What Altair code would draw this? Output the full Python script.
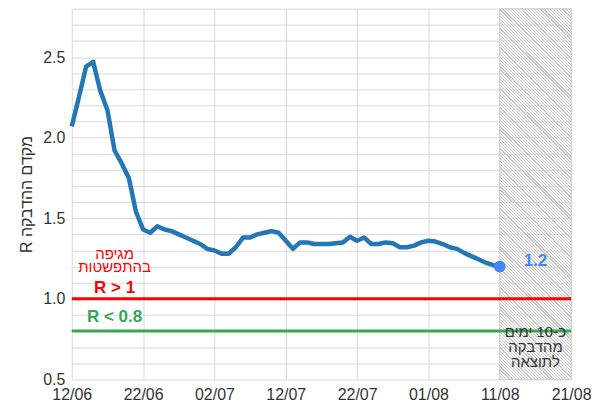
import altair as alt
import pandas as pd

# ---- data ----
start_date = "2020-06-12"
r_values = [2.07, 2.25, 2.44, 2.47, 2.29, 2.17, 1.92, 1.84, 1.75, 1.54,
            1.43, 1.41, 1.45, 1.43, 1.42, 1.40, 1.38, 1.36, 1.34, 1.31,
            1.30, 1.28, 1.28, 1.32, 1.38, 1.38, 1.40, 1.41, 1.42, 1.41,
            1.36, 1.31, 1.35, 1.35, 1.34, 1.34, 1.34, 1.345, 1.35, 1.385,
            1.36, 1.38, 1.34, 1.34, 1.35, 1.345, 1.32, 1.32, 1.33, 1.35,
            1.36, 1.355, 1.34, 1.32, 1.31, 1.285, 1.265, 1.245, 1.225, 1.21,
            1.20]
x_tick_dates = ["2020-06-12", "2020-06-22", "2020-07-02", "2020-07-12",
                "2020-07-22", "2020-08-01", "2020-08-11", "2020-08-21"]
y_grid_values = [round(0.5 + 0.1 * i, 1) for i in range(24)]
threshold_high = 1.0
threshold_low = 0.8
shade_start = "2020-08-11"
shade_end = "2020-08-21"
y_min, y_max = 0.5, 2.8

RLE, PDF = "\u202b", "\u202c"
y_title = RLE + "מקדם ההדבקה R" + PDF
left_notes = ["מגיפה", "בהתפשטות"]
left_notes_date = ["2020-06-18", "2020-06-18"]
left_notes_y = [1.277, 1.195]
high_label = "R > 1"
low_label = "R < 0.8"
labels_date = "2020-06-18"
high_label_y = 1.07
low_label_y = 0.89
last_label = "1.2"
last_label_date = "2020-08-16"
last_label_y = 1.232
shade_notes = [RLE + "כ-10 ימים" + PDF, "מהדבקה", "לתוצאה"]
shade_notes_date = "2020-08-16"
shade_notes_y = [0.797, 0.703, 0.609]

FONT = "Liberation Sans"

dates = pd.date_range(start_date, periods=len(r_values), freq="D")
df = pd.DataFrame({"date": dates, "r": r_values})
last_df = df.tail(1)

x_scale = alt.Scale(domain=[alt.DateTime(year=2020, month=6, date=12),
                            alt.DateTime(year=2020, month=8, date=21)])
y_scale = alt.Scale(domain=[y_min, y_max], nice=False, zero=False)

x_axis = alt.Axis(
    values=[alt.DateTime(year=int(d[:4]), month=int(d[5:7]), date=int(d[8:]))
            for d in x_tick_dates],
    format="%d/%m", title=None, grid=True, domain=False, ticks=False,
    labelFontSize=16, labelColor="#333333", labelPadding=7,
    labelFont=FONT, gridColor="#d9d9d9", labelFlush=False, labelOverlap=False,
)
y_axis = alt.Axis(
    values=y_grid_values, title=y_title, grid=True, domain=False, ticks=False,
    labelExpr="abs(datum.value*2 - round(datum.value*2)) < 0.001 ? format(datum.value, '.1f') : ''",
    labelFontSize=16, labelColor="#333333", labelPadding=7, labelFont=FONT,
    labelOverlap=False, labelFlush=False,
    titleFont=FONT, titleFontSize=16, titleFontWeight="normal",
    titleColor="#333333", titlePadding=8, gridColor="#d9d9d9",
)

# hatch via sharp-stop gradient
stops = []
n = 140
for i in range(n):
    a = i / n
    b = (i + 0.38) / n
    c = (i + 1) / n
    stops += [
        alt.GradientStop(color="#c6c6c6", offset=a),
        alt.GradientStop(color="#c6c6c6", offset=b),
        alt.GradientStop(color="rgba(255,255,255,0)", offset=b),
        alt.GradientStop(color="rgba(255,255,255,0)", offset=c),
    ]
hatch = alt.Gradient(gradient="linear", stops=stops,
                     x1=0, y1=1, x2=0.2214, y2=-0.1499)

shade_df = pd.DataFrame({"s": [pd.Timestamp(shade_start)],
                         "e": [pd.Timestamp(shade_end)],
                         "y0": [y_min], "y1": [y_max]})


def X(field):
    return alt.X(field, scale=x_scale, axis=x_axis)


def Y(field):
    return alt.Y(field, scale=y_scale, axis=y_axis)


shade = alt.Chart(shade_df).mark_rect(fill=hatch, stroke="#d0d0d0", strokeWidth=1).encode(
    x=X("s:T"), x2="e:T", y=Y("y0:Q"), y2="y1:Q",
)

line = alt.Chart(df).mark_line(color="#2377b4", strokeWidth=4.5, strokeJoin="round").encode(
    x=X("date:T"), y=Y("r:Q"),
)

rules_df = pd.DataFrame({"y": [threshold_high, threshold_low],
                         "c": ["#ff0000", "#34a853"]})
rules = alt.Chart(rules_df).mark_rule(strokeWidth=3).encode(
    y=Y("y:Q"), color=alt.Color("c:N", scale=None),
)

point = alt.Chart(last_df).mark_circle(size=140, color="#4285f4", opacity=1).encode(
    x=X("date:T"), y=Y("r:Q"),
)

notes_df = pd.DataFrame({"d": pd.to_datetime(left_notes_date), "y": left_notes_y, "t": left_notes})
notes = alt.Chart(notes_df).mark_text(color="#ff0000", fontSize=15, font=FONT).encode(
    x=X("d:T"), y=Y("y:Q"), text="t:N")

bold_df = pd.DataFrame({
    "d": pd.to_datetime([labels_date, labels_date, last_label_date]),
    "y": [high_label_y, low_label_y, last_label_y],
    "t": [high_label, low_label, last_label],
    "c": ["#ff0000", "#34a853", "#4285f4"],
})
bold = alt.Chart(bold_df).mark_text(fontSize=17, fontWeight="bold", font=FONT).encode(
    x=X("d:T"), y=Y("y:Q"), text="t:N",
    color=alt.Color("c:N", scale=None))

shade_notes_df = pd.DataFrame({"d": pd.to_datetime([shade_notes_date] * 3),
                               "y": shade_notes_y, "t": shade_notes})
snotes = alt.Chart(shade_notes_df).mark_text(color="#333333", fontSize=15, font=FONT).encode(
    x=X("d:T"), y=Y("y:Q"), text="t:N")

chart = alt.layer(shade, line, rules, point, notes, bold, snotes).properties(
    width=501, height=372,
    autosize=alt.AutoSizeParams(type="none"),
    padding={"left": 64, "top": 0, "right": 20, "bottom": 24},
).configure_view(stroke=None)

chart.save("out.html", embed_options={"renderer": "svg", "actions": False})
